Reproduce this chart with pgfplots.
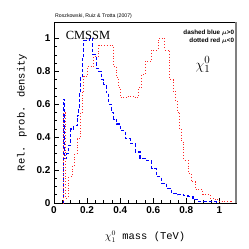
\documentclass[border=0pt]{standalone}
\usepackage{pgfplots}
\pgfplotsset{compat=1.18}
\usepackage{bm}
\usepackage{fontspec}
\newfontfamily\ticksf{Liberation Sans}
\newfontfamily\labfont{Liberation Mono}
\newfontfamily\serf{Liberation Serif}
\usetikzlibrary{calc}
\begin{document}
\begin{tikzpicture}
\begin{axis}[name=ax, scale only axis, width=182bp, height=181bp,
  xmin=0, xmax=1.1, ymin=0, ymax=1.1,
  xtick={0,0.2,0.4,0.6,0.8,1}, ytick={0,0.2,0.4,0.6,0.8,1},
  xticklabels={0,0.2,0.4,0.6,0.8,1}, yticklabels={0,0.2,0.4,0.6,0.8,1},
  minor tick num=3,
  tick pos=left, tick align=inside,
  major tick length=5bp, minor tick length=3bp,
  tick style={black, line width=0.6pt},
  axis line style={line width=0.6pt},
  ticklabel style={font=\ticksf\bfseries\fontsize{10}{11}\selectfont},
  /pgf/number format/assume math mode=true,
  xlabel={\labfont $\chi^0_1$ mass (TeV)},
  ylabel={\labfont Rel. prob. density},
  xlabel style={at={(axis description cs:0.5,-0.188)}, anchor=center, font=\fontsize{10.5}{12}\selectfont},
  ylabel style={at={(axis description cs:-0.176,0.5)}, anchor=center, font=\fontsize{10.5}{12}\selectfont},
  clip=false,
]
\addplot[blue, dashed, line width=1.1pt, const plot mark left, dash pattern=on 3.5pt off 2pt] coordinates {
(0.055,0) (0.06,0.63) (0.066,0.27) (0.075,0.30) (0.085,0.35) (0.10,0.45) (0.12,0.47)
(0.14,0.53) (0.15,0.58) (0.155,0.67) (0.16,0.76) (0.17,0.88) (0.18,0.99) (0.20,0.99)
(0.215,1.00) (0.235,0.90) (0.255,0.82) (0.27,0.80) (0.285,0.75) (0.30,0.72) (0.315,0.67)
(0.33,0.60) (0.345,0.55) (0.36,0.51) (0.38,0.48) (0.40,0.44) (0.43,0.39) (0.46,0.36)
(0.49,0.31) (0.52,0.27) (0.56,0.26) (0.59,0.21) (0.62,0.16) (0.65,0.12) (0.68,0.09)
(0.71,0.06) (0.745,0.05) (0.78,0.045) (0.81,0.04) (0.84,0.02) (0.87,0.01) (0.97,0.01) (0.98,0)
};
\addplot[red!85, dotted, line width=0.9pt, const plot mark left] coordinates {
(0.055,0) (0.06,0.55) (0.07,0.03) (0.085,0.10) (0.09,0.16) (0.11,0.22) (0.125,0.30)
(0.14,0.39) (0.16,0.55) (0.17,0.68) (0.18,0.77) (0.20,0.83) (0.24,0.89) (0.27,0.96)
(0.36,0.83) (0.38,0.76) (0.39,0.70) (0.40,0.64) (0.44,0.65) (0.48,0.64) (0.51,0.70)
(0.53,0.78) (0.55,0.86) (0.59,0.93) (0.63,1.00) (0.67,0.93) (0.70,0.75) (0.72,0.68)
(0.735,0.62) (0.745,0.55) (0.76,0.45) (0.77,0.37) (0.785,0.26) (0.81,0.18) (0.83,0.13)
(0.855,0.08) (0.90,0.05) (0.945,0.03) (0.975,0.02) (1.0,0.01) (1.06,0.01) (1.07,0)
};
\draw[gray, line width=1.6pt] (rel axis cs:1,0) -- (rel axis cs:1,1);
\node[anchor=west, font=\serf\fontsize{12.5}{14}\selectfont] at (axis cs:0.05,1.02) {CMSSM};
\node[anchor=east, font=\ticksf\bfseries\fontsize{6.3}{7}\selectfont, inner sep=0pt] at (axis cs:1.09,1.036) {dashed blue $\bm{\mu}$>0};
\node[anchor=east, font=\ticksf\bfseries\fontsize{6.3}{7}\selectfont, inner sep=0pt] at (axis cs:1.09,0.988) {dotted red $\bm{\mu}$<0};
\node[font=\fontsize{15}{17}\selectfont] at (axis cs:0.90,0.84) {$\chi^{0}_{1}$};
\node[anchor=south west, font=\ticksf\fontsize{5.2}{6}\selectfont, inner sep=0pt] at ($(rel axis cs:0,1)+(1bp,3bp)$) {Roszkowski, Ruiz \& Trotta (2007)};
\end{axis}
\pgfresetboundingbox
\path[use as bounding box] ($(ax.south west)+(-54bp,-46bp)$) rectangle ($(ax.north east)+(13bp,22bp)$);
\end{tikzpicture}
\end{document}
